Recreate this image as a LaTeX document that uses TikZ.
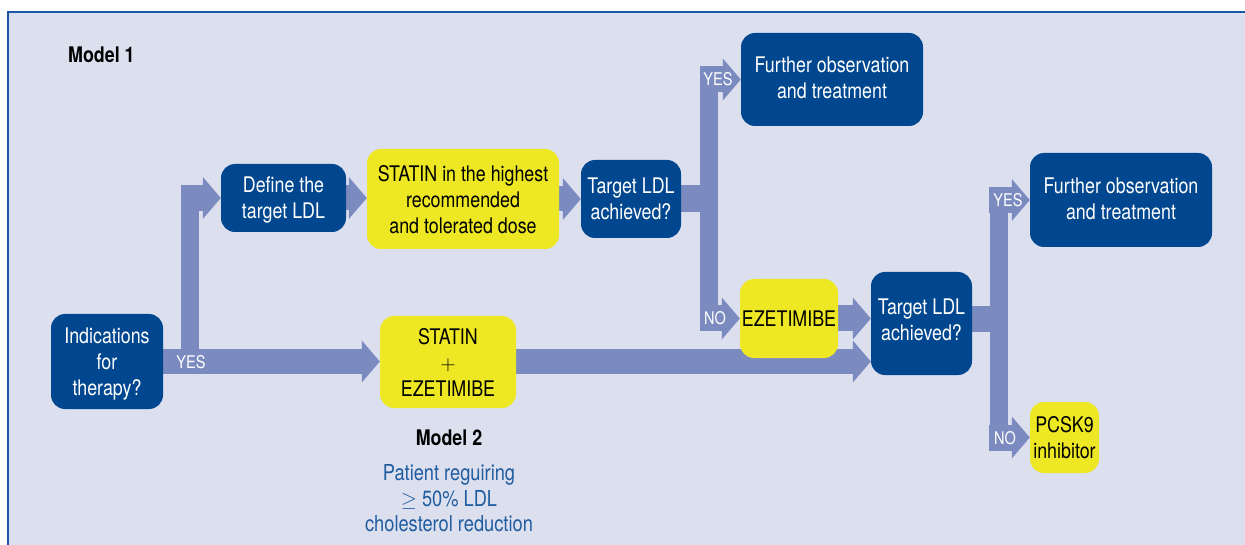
\documentclass[tikz,border=0pt]{standalone}
\usepackage{fontspec}
\setmainfont{TeX Gyre Heros}[FakeStretch=0.83]
\usetikzlibrary{arrows.meta,calc}
\definecolor{bgc}{HTML}{DCDFEE}
\definecolor{framec}{HTML}{1B55A5}
\definecolor{dblue}{HTML}{00478F}
\definecolor{yel}{HTML}{EEE824}
\definecolor{arr}{HTML}{7B8BBF}
\definecolor{btext}{HTML}{1F5CA0}
\newcommand{\boxfont}{\fontsize{21.5}{26}\selectfont}
\newcommand{\labfont}{\fontsize{17.5}{20}\selectfont}
\pgfdeclarelayer{back}
\pgfdeclarelayer{mid}
\pgfsetlayers{back,mid,main}
\begin{document}
\begin{tikzpicture}[x=1pt,y=-1pt,
  dbox/.style={fill=dblue,text=white,rounded corners=14pt,inner sep=0pt,align=center,font=\boxfont,text depth=0pt},
  ybox/.style={fill=yel,text=black,rounded corners=14pt,inner sep=0pt,align=center,font=\boxfont,text depth=0pt},
  fat/.style={draw=arr,line width=#1,-{Triangle[length=18pt,width=42pt,line width=0pt]}},
  fat/.default=25pt,
  vbar/.style={draw=arr,line width=18pt},
  lab/.style={text=white,font=\labfont,inner sep=0pt}]
\useasboundingbox (0,0) rectangle (1245,545);
\begin{pgfonlayer}{back}
  \fill[white] (0,0) rectangle (1245,545);
  \fill[bgc] (8,12) rectangle (1245,545);
  \draw[framec,line width=2pt] (8,545) -- (8,12) -- (1245,12);
\end{pgfonlayer}

% nodes
\node[dbox,minimum width=112pt,minimum height=95pt] (ind) at (107,361.5) {Indications\\for\\therapy?};
\node[dbox,minimum width=125pt,minimum height=68pt] (define) at (283.5,198) {Define the\\target LDL};
\node[ybox,minimum width=192pt,minimum height=100pt] (statin) at (463,199) {STATIN in the highest\\recommended\\and tolerated dose};
\node[dbox,minimum width=100pt,minimum height=78pt] (t1) at (631,199) {Target LDL\\achieved?};
\node[dbox,minimum width=182pt,minimum height=93pt,text depth=4pt] (f1) at (832,79.5) {Further observation\\and treatment};
\node[ybox,minimum width=98pt,minimum height=79pt] (ezet) at (789,318.5) {EZETIMIBE};
\node[ybox,minimum width=136pt,minimum height=92pt] (statez) at (448,362) {STATIN\\$+$\\EZETIMIBE};
\node[dbox,minimum width=101pt,minimum height=103pt,text depth=8pt] (t2) at (921.5,323.5) {Target LDL\\achieved?};
\node[dbox,minimum width=182pt,minimum height=94pt,text depth=2pt] (f2) at (1121,200) {Further observation\\and treatment};
\node[ybox,minimum width=69pt,minimum height=71pt] (pcsk) at (1064.5,437.5) {PCSK9\\inhibitor};

\node[anchor=base west,inner sep=0pt,font=\fontsize{21.5}{26}\selectfont\bfseries] (m1) at (68,63) {Model 1};
\node[inner sep=0pt,font=\fontsize{21.5}{26}\selectfont\bfseries] (m2) at (449,438) {Model 2};
\node[inner sep=0pt,align=center,text=btext,font=\fontsize{22}{25.5}\selectfont,text depth=0pt] (pat) at (449,498) {Patient reguiring\\$\geq$ 50\% LDL\\cholesterol reduction};

% coordinates of junctions
\coordinate (j1top) at (190,185);
\coordinate (j1bot) at (190,361.5);
\coordinate (j1l) at (181,198);
\coordinate (b1top) at (709,66);
\coordinate (b1bot) at (709,329);
\coordinate (b1r) at (718,199);
\coordinate (b1ya) at (700,79.5);
\coordinate (b1na) at (700,318.5);
\coordinate (b2top) at (998.5,187);
\coordinate (b2bot) at (998.5,451);
\coordinate (b2r) at (1008,319);
\coordinate (b2ya) at (989,200);
\coordinate (b2na) at (989,437.5);

\begin{pgfonlayer}{mid}
  \draw[fat] (ind.east |- j1bot) -- (statez.west |- j1bot);
  \draw[vbar] (j1bot) -- (j1top);
  \draw[fat=26pt] (j1l) -- (define.west);
  \draw[fat] (define.east) -- (statin.west |- define.east);
  \draw[fat] (statin.east) -- (t1.west);
  \draw[fat=27pt,-] (t1.east) -- (b1r);
  \draw[vbar] (b1top) -- (b1bot);
  \draw[fat=26pt] (b1ya) -- (f1.west);
  \draw[fat=26pt] (b1na) -- (ezet.west);
  \draw[fat] (statez.east |- j1bot) -- (t2.west |- j1bot);
  \draw[fat=26pt] (ezet.east) -- (t2.west |- ezet.east);
  \draw[fat=26pt,-] (t2.east |- b2r) -- (b2r);
  \draw[vbar] (b2top) -- (b2bot);
  \draw[fat=26pt] (b2ya) -- (f2.west |- b2ya);
  \draw[fat=26pt] (b2na) -- (pcsk.west);
\end{pgfonlayer}

\node[lab] (y0) at (191,362) {YES};
\node[lab] (y1) at (718,79) {YES};
\node[lab] (n1) at (715,318) {NO};
\node[lab] (y2) at (1008,200) {YES};
\node[lab] (n2) at (1005,438) {NO};
\end{tikzpicture}
\end{document}
